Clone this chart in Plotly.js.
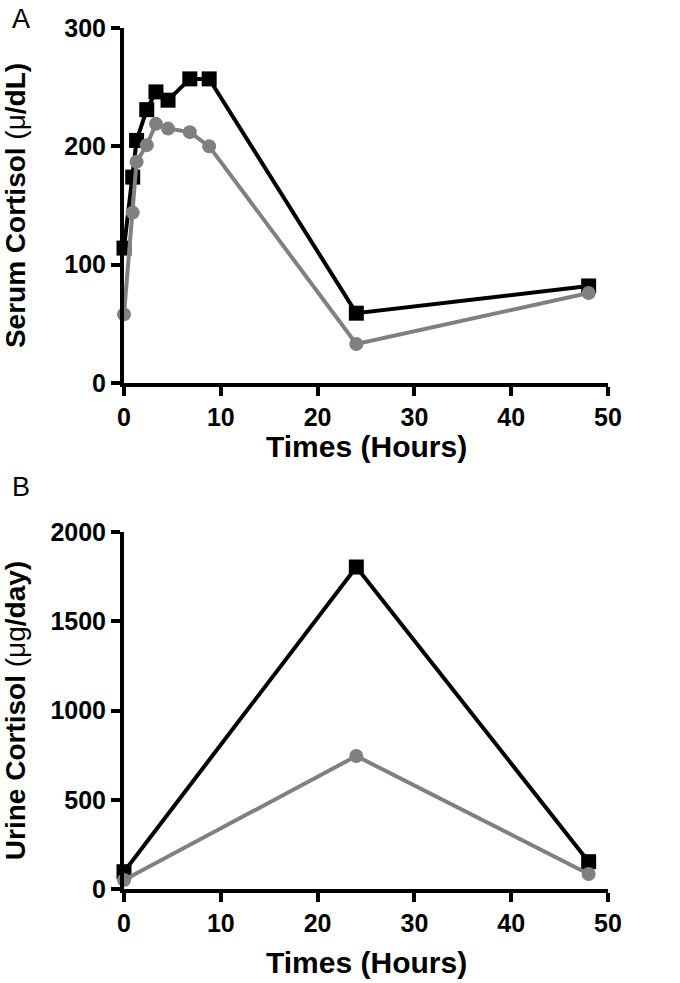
<!DOCTYPE html>
<html>
<head>
<meta charset="utf-8">
<script src="https://cdn.plot.ly/plotly-3.0.1.min.js"></script>
<style>html,body{margin:0;padding:0;background:#fff;}#chart{width:680px;height:983px;}</style>
</head>
<body>
<div id="chart"></div>
<script>
// Panel A: serum cortisol (time in hours)
const serumTimes = [0, 0.9, 1.3, 2.35, 3.3, 4.55, 6.8, 8.8, 24, 48];
const serumBlack = [114, 174, 205, 231, 246, 239, 257, 257, 59, 82];
const serumGray  = [58, 144, 187, 201, 219, 215, 212, 200, 33, 76];
// Panel B: urine cortisol
const urineTimes = [0, 24, 48];
const urineBlack = [97, 1804, 153];
const urineGray  = [50, 745, 84];

const xTicks = [0, 10, 20, 30, 40, 50];
const yTicksA = [0, 100, 200, 300];
const yTicksB = [0, 500, 1000, 1500, 2000];

const FONT = "Liberation Sans, Arial, sans-serif";
const BLACK = "#000000";
const GRAY = "#808080";

function series(x, y, color, symbol, size, xa, ya) {
  return {
    type: "scatter", mode: "lines+markers", x: x, y: y,
    xaxis: xa, yaxis: ya, cliponaxis: false, showlegend: false,
    line: {color: color, width: 4},
    marker: {color: color, symbol: symbol, size: size, line: {width: 0}}
  };
}

const data = [
  series(serumTimes, serumBlack, BLACK, "square", 15, "x", "y"),
  series(serumTimes, serumGray, GRAY, "circle", 14, "x", "y"),
  series(urineTimes, urineBlack, BLACK, "square", 15, "x2", "y2"),
  series(urineTimes, urineGray, GRAY, "circle", 14, "x2", "y2")
];

const bold = v => "<b>" + v + "</b>";

const axBase = {
  showgrid: false, zeroline: false, showline: true, linecolor: BLACK, linewidth: 4,
  ticks: "outside", ticklen: 9, tickwidth: 4, tickcolor: BLACK,
  tickfont: {family: FONT, size: 25, color: BLACK},
  automargin: false, fixedrange: true
};

function xAxis(anchor) {
  return Object.assign({}, axBase, {
    range: [0, 50], tickvals: xTicks, ticktext: xTicks.map(bold), anchor: anchor
  });
}

const titleFont = {family: FONT, size: 30, color: BLACK};

const layout = {
  width: 680, height: 983,
  margin: {l: 124, r: 72, t: 28, b: 94},
  paper_bgcolor: "#fff", plot_bgcolor: "#fff",
  font: {family: FONT, color: BLACK},
  xaxis: xAxis("y"),
  xaxis2: xAxis("y2"),
  yaxis: Object.assign({}, axBase, {
    domain: [0.5877, 1], range: [0, 300], tickvals: yTicksA, ticktext: yTicksA.map(bold),
    anchor: "x",
    title: {text: "<b>Serum Cortisol </b>(μ<b>/dL)</b>", font: {family: FONT, size: 28, color: BLACK}, standoff: 34}
  }),
  yaxis2: Object.assign({}, axBase, {
    domain: [0, 0.4146], range: [0, 2000], tickvals: yTicksB, ticktext: yTicksB.map(bold),
    anchor: "x2",
    title: {text: "<b>Urine Cortisol </b>(μg<b>/day)</b>", font: {family: FONT, size: 28, color: BLACK}, standoff: 20}
  }),
  annotations: [
    {text: "<b>Times (Hours)</b>", xref: "paper", yref: "paper", x: 0.5, y: 0.5145,
     xanchor: "center", yanchor: "middle", showarrow: false, font: titleFont},
    {text: "<b>Times (Hours)</b>", xref: "paper", yref: "paper", x: 0.5, y: -0.0848,
     xanchor: "center", yanchor: "middle", showarrow: false, font: titleFont},
    {text: "A", xref: "paper", yref: "paper", x: -0.235, y: 1.0, xanchor: "left", yanchor: "top",
     yshift: 26, showarrow: false, font: {family: FONT, size: 27, color: BLACK}},
    {text: "B", xref: "paper", yref: "paper", x: -0.235, y: 0.467, xanchor: "left", yanchor: "middle",
     showarrow: false, font: {family: FONT, size: 27, color: BLACK}}
  ]
};

Plotly.newPlot("chart", data, layout, {displayModeBar: false, staticPlot: true});
</script>
</body>
</html>
